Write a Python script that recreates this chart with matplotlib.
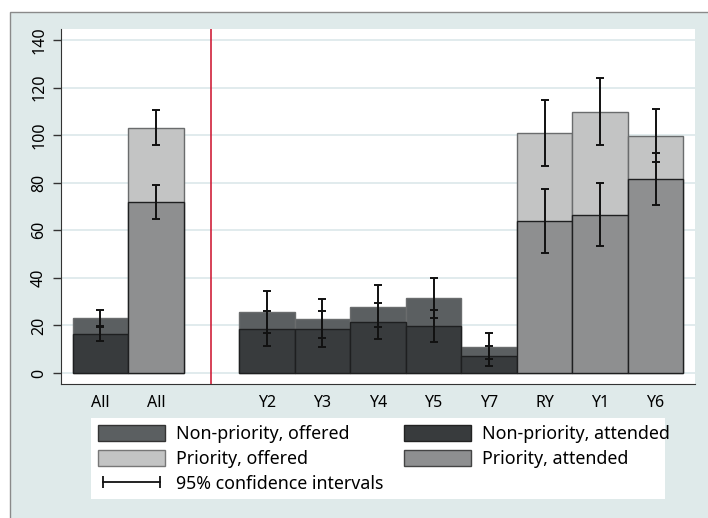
import numpy as np
import matplotlib
matplotlib.use("Agg")
import matplotlib.pyplot as plt
from matplotlib.patches import Patch, Rectangle
from matplotlib.lines import Line2D

plt.rcParams['font.family'] = ['Noto Sans', 'DejaVu Sans']

# overall bars (left panel) then per-group bars (right panel)
labels = ['All', 'All', 'Y2', 'Y3', 'Y4', 'Y5', 'Y7', 'RY', 'Y1', 'Y6']
priority = [False, True, False, False, False, False, False, True, True, True]

offered = [23.0, 103.0, 25.7, 22.6, 27.8, 31.4, 11.1, 100.8, 109.6, 99.5]
offered_lo = [19.6, 95.9, 17.0, 14.6, 19.5, 23.1, 5.8, 87.2, 96.0, 88.7]
offered_hi = [26.6, 110.7, 34.6, 31.3, 37.0, 40.0, 16.9, 114.9, 123.9, 110.9]

attended = [16.4, 71.9, 18.4, 18.4, 21.6, 19.6, 7.0, 63.8, 66.4, 81.4]
attended_lo = [13.6, 64.8, 11.4, 11.1, 14.2, 13.2, 2.9, 50.6, 53.4, 70.6]
attended_hi = [19.4, 79.2, 26.1, 26.2, 29.3, 26.5, 11.5, 77.2, 79.8, 92.5]

c_np_off = '#5b5f61'
c_np_att = '#383b3d'
c_p_off = '#c3c4c4'
c_p_att = '#8e8f90'
bg = '#dfeaea'
grid_c = '#dbe8ea'

W, H = 708, 518
fig = plt.figure(figsize=(W / 100, H / 100), dpi=100)
fig.patch.set_facecolor('white')


def px_rect(x0, y0, x1, y1, **kw):
    # rectangle given in pixel coords (origin top-left)
    return Rectangle((x0 / W, 1 - y1 / H), (x1 - x0) / W, (y1 - y0) / H,
                     transform=fig.transFigure, **kw)


# outer graph region and white legend box
fig.patches.append(px_rect(10, 12, W + 20, H + 20, facecolor=bg,
                           edgecolor='#8a8a8a', linewidth=1.0, zorder=-10))
fig.patches.append(px_rect(91, 418, 665, 499, facecolor='white',
                           edgecolor='none', zorder=-5))

ax = fig.add_axes([61 / W, 1 - 384 / H, (695 - 61) / W, (384 - 29) / H])
ax.set_facecolor('white')

x = np.array([0.5, 1.5] + [3.5 + i for i in range(8)])
off_col = [c_p_off if p else c_np_off for p in priority]
att_col = [c_p_att if p else c_np_att for p in priority]

ax.bar(x, offered, width=1.0, color=off_col, edgecolor='#6a6c6d', linewidth=1.0, zorder=2)
ax.bar(x, attended, width=1.0, color=att_col, edgecolor='#1e1f20', linewidth=1.0, zorder=3)

off = np.array(offered)
att = np.array(attended)
ax.errorbar(x, off, yerr=[off - np.array(offered_lo), np.array(offered_hi) - off],
            fmt='none', ecolor='#111111', elinewidth=1.4, capsize=3.2, capthick=1.4, zorder=4)
ax.errorbar(x, att, yerr=[att - np.array(attended_lo), np.array(attended_hi) - att],
            fmt='none', ecolor='#111111', elinewidth=1.4, capsize=3.2, capthick=1.4, zorder=4)

ax.axvline(2.5, color='#d0213b', linewidth=1.2, zorder=5)

ax.set_xlim(-0.21, 11.21)
ax.set_ylim(-4.6, 144.6)
ax.set_yticks(np.arange(0, 141, 20))
ax.set_yticklabels([str(v) for v in range(0, 141, 20)], rotation=90, va='center', fontsize=11.5)
ax.set_xticks(x)
ax.set_xticklabels(labels, fontsize=11.5)
ax.tick_params(axis='x', length=0, pad=8)
ax.tick_params(axis='y', length=6, width=1, color='#333333', pad=4)
ax.grid(axis='y', color=grid_c, linewidth=1.2, zorder=0)
ax.set_axisbelow(True)
for s in ['top', 'right']:
    ax.spines[s].set_visible(False)
ax.spines['left'].set_color('#333333')
ax.spines['bottom'].set_color('#333333')

handles = [
    Patch(facecolor=c_np_off, edgecolor='#333333', label='Non-priority, offered'),
    Patch(facecolor=c_p_off, edgecolor='#777777', label='Priority, offered'),
    Line2D([0], [0], color='#111111', lw=1.3, marker='|', markersize=8, markeredgewidth=1.3,
           label='95% confidence intervals'),
    Patch(facecolor=c_np_att, edgecolor='#222222', label='Non-priority, attended'),
    Patch(facecolor=c_p_att, edgecolor='#444444', label='Priority, attended'),
]
leg = fig.legend(handles=handles, ncol=2, loc='upper left',
                 bbox_to_anchor=(98 / W, 1 - 425 / H), fontsize=12.8,
                 frameon=False, handlelength=3.77, handleheight=1.0, numpoints=2,
                 labelspacing=0.39, columnspacing=1.15, handletextpad=0.62,
                 borderpad=0, borderaxespad=0)

fig.savefig('out.png', dpi=100)
